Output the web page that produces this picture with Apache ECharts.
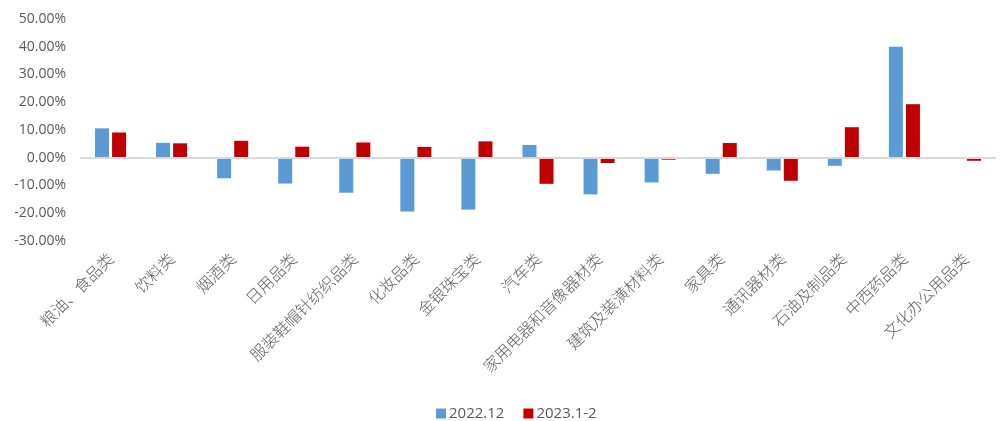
<!DOCTYPE html>
<html>
<head>
<meta charset="utf-8">
<script src="https://cdn.jsdelivr.net/npm/echarts@6/dist/echarts.min.js"></script>
<style>html,body{margin:0;padding:0;background:#fff;}#c{width:1005px;height:421px;}</style>
</head>
<body>
<div id="c"></div>
<script>
const categories = ['粮油、食品类','饮料类','烟酒类','日用品类','服装鞋帽针纺织品类','化妆品类','金银珠宝类','汽车类','家用电器和音像器材类','建筑及装潢材料类','家具类','通讯器材类','石油及制品类','中西药品类','文化办公用品类'];
const series2022 = [10.6, 5.4, -7.4, -9.3, -12.6, -19.4, -18.7, 4.6, -13.2, -8.9, -5.8, -4.6, -2.9, 40.0, 0];
const series2023 = [9.1, 5.2, 6.1, 4.0, 5.5, 3.9, 5.9, -9.4, -1.9, -0.7, 5.3, -8.3, 11.0, 19.3, -1.1];
const seriesNames = ['2022.12', '2023.1-2'];
const yTicks = { min: -30, max: 50, interval: 10 };

const chart = echarts.init(document.getElementById('c'));
const txt = '#595959';
chart.setOption({
  animation: false,
  grid: { left: 80, right: 9, top: 19, bottom: 180 },
  legend: {
    bottom: 0, left: 436, itemWidth: 10, itemHeight: 10, itemGap: 19,
    padding: 0, icon: 'rect',
    textStyle: { color: txt, fontSize: 15, padding: [0, 0, 0, -2], fontFamily: 'Open Sans, Noto Sans CJK SC' }
  },
  xAxis: {
    type: 'category', data: categories,
    axisLine: { show: false, onZero: false },
    axisTick: { show: false },
    axisLabel: { rotate: 45, interval: 0, margin: 15, color: '#606060', fontSize: 16, fontWeight: 300, fontFamily: 'Noto Sans CJK SC' }
  },
  yAxis: {
    type: 'value', min: yTicks.min, max: yTicks.max, interval: yTicks.interval,
    splitLine: { show: false },
    axisLine: { show: false },
    axisTick: { show: false },
    axisLabel: { margin: 14, color: txt, fontSize: 14, fontFamily: 'Open Sans, Liberation Sans', formatter: v => v.toFixed(2) + '%' }
  },
  series: [
    {
      name: seriesNames[0], type: 'bar', data: series2022,
      barWidth: 14, barGap: '22%',
      itemStyle: { color: '#5B9BD5' },
      markLine: { silent: true, symbol: 'none', label: { show: false },
        lineStyle: { color: '#d9d9d9', width: 2, type: 'solid' },
        data: [{ yAxis: 0 }] },
      z: 3
    },
    {
      name: seriesNames[1], type: 'bar', data: series2023,
      barWidth: 14,
      itemStyle: { color: '#C00000' },
      z: 3
    }
  ]
});
</script>
</body>
</html>
